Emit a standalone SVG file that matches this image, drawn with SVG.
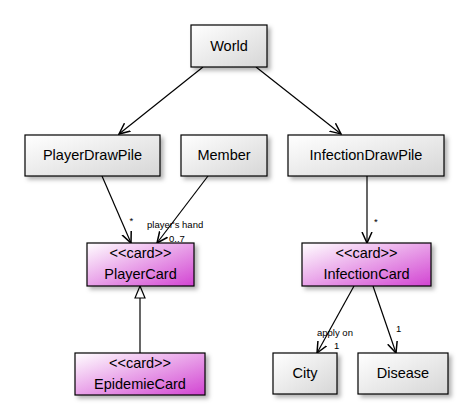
<svg xmlns="http://www.w3.org/2000/svg" width="475" height="420" viewBox="0 0 475 420">
<defs>
<linearGradient id="gGray" x1="0" y1="0" x2="1" y2="1">
<stop offset="0" stop-color="#ffffff"/>
<stop offset="1" stop-color="#d6d6d6"/>
</linearGradient>
<linearGradient id="gPink" x1="0" y1="0" x2="1" y2="1">
<stop offset="0" stop-color="#ffffff"/>
<stop offset="1" stop-color="#d244d2"/>
</linearGradient>
<filter id="sh" x="-20%" y="-20%" width="150%" height="150%">
<feDropShadow dx="3" dy="3" stdDeviation="2" flood-color="#000" flood-opacity="0.3"/>
</filter>
<marker id="open" viewBox="0 0 12 12" refX="11" refY="6" markerWidth="12" markerHeight="12" markerUnits="userSpaceOnUse" orient="auto">
<path d="M0,1 L11,6 L0,11" fill="none" stroke="#000" stroke-width="1.5"/>
</marker>
<marker id="tri" viewBox="0 0 14 12" refX="13" refY="6" markerWidth="14" markerHeight="12" markerUnits="userSpaceOnUse" orient="auto">
<path d="M1,1 L13,6 L1,11 Z" fill="#fff" stroke="#000" stroke-width="1.2"/>
</marker>
</defs>
<style>
.box{stroke:#000;stroke-width:1.2;filter:url(#sh)}
.gray{fill:url(#gGray)}
.pink{fill:url(#gPink)}
.t{font-family:"Liberation Sans",Arial,sans-serif;font-size:14.5px;fill:#000;text-anchor:middle}
.lbl{font-family:"Liberation Sans",Arial,sans-serif;font-size:9.5px;fill:#000}
.c{fill:none;stroke:#000;stroke-width:1.2}
</style>
<rect width="475" height="420" fill="#fff"/>
<g id="connectors">
<line class="c" x1="203" y1="67" x2="119" y2="134" marker-end="url(#open)"/>
<line class="c" x1="256" y1="67" x2="341" y2="134" marker-end="url(#open)"/>
<line class="c" x1="102" y1="176" x2="131" y2="243" marker-end="url(#open)"/>
<text class="lbl" x="129.5" y="224">*</text>
<line class="c" x1="208" y1="176" x2="157" y2="243" marker-end="url(#open)"/>
<text class="lbl" x="147" y="228">player's hand</text>
<text class="lbl" x="169" y="242">0..7</text>
<line class="c" x1="367" y1="176" x2="367" y2="243" marker-end="url(#open)"/>
<text class="lbl" x="374" y="225">*</text>
<line class="c" x1="140" y1="353" x2="140" y2="286" marker-end="url(#tri)"/>
<line class="c" x1="354" y1="286" x2="317" y2="353" marker-end="url(#open)"/>
<text class="lbl" x="317" y="336">apply on</text>
<text class="lbl" x="334" y="349">1</text>
<line class="c" x1="373" y1="286" x2="396" y2="353" marker-end="url(#open)"/>
<text class="lbl" x="396" y="332">1</text>
</g>
<g id="World">
<rect class="box gray" x="191" y="25" width="76" height="42"/>
<text class="t" x="229" y="51">World</text>
</g>
<g id="PlayerDrawPile">
<rect class="box gray" x="25" y="135" width="135" height="41"/>
<text class="t" x="92.5" y="160">PlayerDrawPile</text>
</g>
<g id="Member">
<rect class="box gray" x="181" y="135" width="86" height="41"/>
<text class="t" x="224" y="160">Member</text>
</g>
<g id="InfectionDrawPile">
<rect class="box gray" x="288" y="135" width="156" height="41"/>
<text class="t" x="366" y="160">InfectionDrawPile</text>
</g>
<g id="PlayerCard">
<rect class="box pink" x="87" y="243" width="107" height="43"/>
<text class="t" x="140.5" y="258">&lt;&lt;card&gt;&gt;</text>
<text class="t" x="140.5" y="279">PlayerCard</text>
</g>
<g id="InfectionCard">
<rect class="box pink" x="302" y="243" width="129" height="43"/>
<text class="t" x="366.5" y="258">&lt;&lt;card&gt;&gt;</text>
<text class="t" x="366.5" y="279">InfectionCard</text>
</g>
<g id="EpidemieCard">
<rect class="box pink" x="75" y="353" width="130" height="42"/>
<text class="t" x="140" y="368">&lt;&lt;card&gt;&gt;</text>
<text class="t" x="140" y="389">EpidemieCard</text>
</g>
<g id="City">
<rect class="box gray" x="273" y="353" width="64" height="41"/>
<text class="t" x="305" y="378">City</text>
</g>
<g id="Disease">
<rect class="box gray" x="358" y="353" width="90" height="41"/>
<text class="t" x="403" y="378">Disease</text>
</g>
</svg>
